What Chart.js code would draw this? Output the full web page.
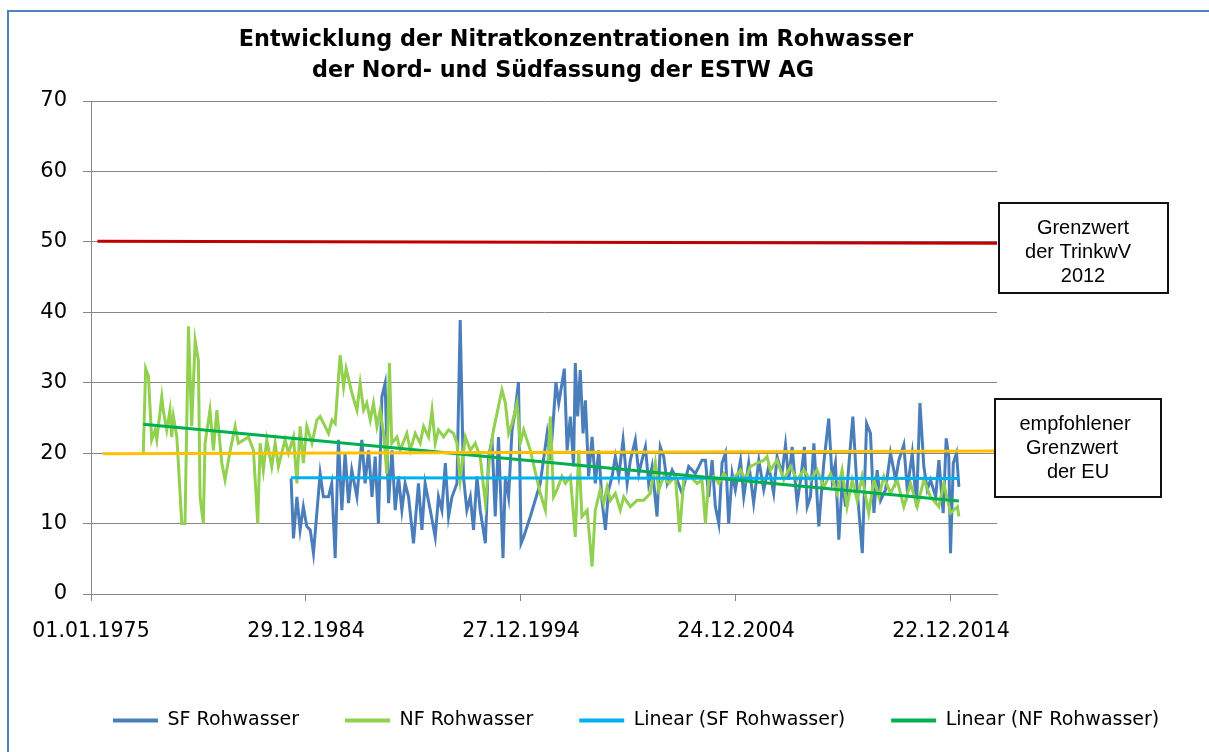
<!DOCTYPE html>
<html>
<head>
<meta charset="utf-8">
<script src="https://cdn.jsdelivr.net/npm/chart.js@4/dist/chart.umd.min.js"></script>
<style>
html,body{margin:0;padding:0;background:#fff;}
canvas{display:block;}
</style>
</head>
<body>
<canvas id="c" width="1209" height="752"></canvas>
<script>
// ---------- DATA ----------
const tickDays = [0, 3650, 7300, 10950, 14600];
const tickLabels = ['01.01.1975', '29.12.1984', '27.12.1994', '24.12.2004', '22.12.2014'];
const axisMaxDays = 15381;

const nfYears = [1977.43,1977.54,1977.67,1977.82,1977.98,1978.06,1978.29,1978.36,1978.52,1978.67,1978.75,1978.83,1978.99,1979.22,1979.37,1979.53,1979.68,1979.84,1979.99,1980.07,1980.22,1980.30,1980.53,1980.69,1980.85,1981.08,1981.23,1981.47,1981.70,1981.85,1982.32,1982.55,1982.75,1982.86,1983.01,1983.17,1983.40,1983.56,1983.71,1984.02,1984.18,1984.41,1984.57,1984.72,1984.87,1985.03,1985.27,1985.50,1985.65,1985.88,1986.04,1986.20,1986.35,1986.58,1986.74,1986.86,1987.13,1987.36,1987.51,1987.67,1987.82,1987.98,1988.13,1988.29,1988.44,1988.60,1988.75,1988.87,1988.98,1989.22,1989.37,1989.68,1989.84,1990.07,1990.30,1990.46,1990.69,1990.85,1991.00,1991.15,1991.39,1991.62,1991.85,1992.01,1992.16,1992.40,1992.63,1992.86,1993.09,1993.33,1993.56,1993.71,1994.10,1994.26,1994.41,1994.57,1994.80,1994.95,1995.11,1995.42,1995.88,1996.12,1996.35,1996.50,1996.66,1996.89,1997.05,1997.28,1997.51,1997.67,1997.82,1998.06,1998.29,1998.44,1998.67,1998.83,1998.99,1999.14,1999.37,1999.60,1999.76,2000.07,2000.38,2000.69,2001.00,2001.23,2001.39,2001.62,2001.85,2002.16,2002.36,2002.55,2002.86,2003.17,2003.40,2003.56,2003.71,2003.94,2004.18,2004.41,2004.64,2004.95,2005.19,2005.42,2005.65,2005.96,2006.27,2006.42,2006.58,2006.89,2007.20,2007.51,2007.82,2008.13,2008.44,2008.75,2009.06,2009.37,2009.68,2009.91,2010.14,2010.38,2010.61,2010.84,2011.15,2011.39,2011.62,2011.85,2012.16,2012.47,2012.78,2013.09,2013.40,2013.71,2014.02,2014.41,2014.64,2014.95,2015.27,2015.34];
const nfValues = [20,32,30.9,21.9,23.3,21.9,28,26.1,23.3,26.1,22.3,25.2,22.3,10,10,38,23.8,36,33.2,13.8,10,21.4,26.1,20.4,26.1,18.6,16.2,20.4,23.8,21.4,22.3,20.4,10,21.4,17.6,21.9,18.1,21.4,18.1,21.9,20,22.3,15.7,23.8,18.6,23.8,21.4,24.7,25.2,23.8,22.8,24.7,24.2,33.9,29.4,32,28.5,26.1,29.9,26.1,27.1,24.7,27.1,23.8,26.1,22.8,17.1,32.8,21.4,22.3,20.4,22.8,20.4,22.8,21.4,23.8,22.3,26.1,21.4,23.3,22.3,23.3,22.8,21.4,16.2,22.3,20.4,21.4,19.5,12.9,20.4,23.3,29,27.1,22.8,24.2,27.1,21.4,23.3,20.4,14.3,11.9,25.2,13.8,14.8,16.7,15.7,16.7,8.1,20.4,11,11.9,3.9,11.9,14.8,12.9,15.2,13.3,14.3,11.9,13.8,12.4,13.3,13.3,14.3,18.6,14.8,16.7,15.7,16.7,8.8,16.2,16.7,15.7,16.2,10,16.2,16.7,15.7,17.1,16.2,16.7,17.6,16.2,18.1,18.6,19,19.5,17.6,19,16.2,18.1,16.2,17.6,16.2,17.6,15.2,17.1,14.3,17.6,12.4,16.2,13.3,16.7,11.5,16.2,13.8,16.7,14.3,16.2,12.4,15.7,12.4,16.2,13.8,12.4,15.7,11.5,12.4,11];

const sfYears = [1984.30,1984.41,1984.57,1984.72,1984.87,1985.03,1985.19,1985.34,1985.65,1985.80,1986.04,1986.19,1986.35,1986.50,1986.66,1986.81,1986.97,1987.12,1987.36,1987.59,1987.74,1987.90,1988.06,1988.21,1988.36,1988.52,1988.67,1988.83,1988.99,1989.14,1989.29,1989.45,1989.60,1989.76,1989.99,1990.22,1990.38,1990.53,1990.77,1991.00,1991.15,1991.31,1991.47,1991.62,1991.78,1992.01,1992.16,1992.31,1992.47,1992.63,1992.78,1992.94,1993.09,1993.33,1993.48,1993.64,1993.79,1993.94,1994.15,1994.26,1994.41,1994.57,1994.72,1994.87,1994.99,1995.11,1995.42,1995.88,1996.20,1996.35,1996.50,1996.61,1996.74,1996.89,1997.00,1997.13,1997.28,1997.43,1997.51,1997.62,1997.74,1997.87,1997.98,1998.13,1998.29,1998.44,1998.60,1998.75,1998.91,1999.06,1999.22,1999.37,1999.53,1999.73,1999.92,2000.07,2000.30,2000.46,2000.61,2000.77,2000.92,2001.08,2001.31,2001.46,2001.62,2001.78,2002.01,2002.24,2002.47,2002.78,2003.09,2003.40,2003.56,2003.71,2003.87,2004.02,2004.18,2004.33,2004.49,2004.64,2004.80,2004.95,2005.19,2005.34,2005.57,2005.80,2006.04,2006.27,2006.50,2006.73,2006.89,2007.12,2007.28,2007.43,2007.59,2007.82,2007.98,2008.16,2008.29,2008.44,2008.60,2008.83,2009.06,2009.29,2009.45,2009.60,2009.76,2009.92,2010.07,2010.22,2010.41,2010.61,2010.85,2011.05,2011.23,2011.39,2011.54,2011.70,2011.93,2012.16,2012.40,2012.55,2012.78,2012.94,2013.17,2013.37,2013.53,2013.71,2013.87,2014.02,2014.26,2014.41,2014.61,2014.75,2014.87,2014.95,2015.08,2015.23,2015.34];
const sfValues = [16.4,7.9,13.8,9.1,12.4,9.6,9.1,5.8,17.1,13.8,13.8,15.7,5.1,21.9,11.9,20,12.9,17.6,13.8,21.9,15.7,20.4,13.8,19.5,10,28,29.9,12.9,20.4,11.9,16.7,11.9,15.7,13.8,7.2,15.7,9.1,15.7,11.9,8.1,13.8,11.9,18.6,11,13.8,15.7,38.9,16.7,11.9,13.8,9.1,16.7,11.9,7.2,19.5,21.9,11,22.3,5.1,16.7,13.8,23.3,26.1,30.1,7.2,8.1,11,15.7,22.8,19,25.2,30.1,27.1,29.9,32,20.4,25.2,18.1,32.8,25.2,31.8,22.8,27.5,16.7,22.3,15.7,20.4,13.3,9.1,14.8,16.7,19.5,16.7,21.9,15.7,19,21.9,17.1,19,20.9,15.7,18.1,11,20.9,19.5,15.7,17.6,16.2,14.3,18.1,17.1,19,19,13.8,19,12.4,10,18.6,20,10,17.1,14.8,19,13.8,18.6,12.9,19,14.8,18.1,14.3,19.5,17.1,21.2,16.2,20.9,12.9,16.2,20.9,12.4,13.8,21.4,9.6,18.6,24.9,16.2,18.6,7.7,16.2,12.4,18.1,25.2,14.8,5.8,24.2,22.8,11.5,17.6,13.3,14.8,20,16.2,19,21.2,14.8,20,12.4,27.1,18.1,14.8,16.2,13.8,19,11.5,22.1,19.5,5.8,18.6,20,15.2];

const sfTrendYears = [1984.30, 2015.34];
const sfTrendValues = [16.5, 16.4];
const nfTrendYears = [1977.43, 2015.34];
const nfTrendValues = [24.1, 13.2];

const trinkwvYears = [1975.30, 2017.11];
const trinkwvValues = [50.1, 49.8];
const euYears = [1975.55, 2017.11];
const euValues = [19.9, 20.3];

const titleLines = ['Entwicklung der Nitratkonzentrationen im Rohwasser', 'der Nord- und Südfassung der ESTW AG'];
const box1Lines = ['Grenzwert', 'der TrinkwV', '2012'];
const box2Lines = ['empfohlener', 'Grenzwert', 'der EU'];

// ---------- helpers ----------
const toDays = y => (y - 1975) * 365.25;
const pts = (xs, ys) => xs.map((x, i) => ({x: toDays(x), y: ys[i]}));
const PAD_BOTTOM = 12;

const decor = {
  id: 'decor',
  beforeDraw(chart) {
    const ctx = chart.ctx;
    ctx.save();
    ctx.fillStyle = '#fff';
    ctx.fillRect(0, 0, chart.width, chart.height);
    ctx.restore();
  },
  afterLayout(chart) {
    const lg = chart.legend;
    if (lg && lg.lineWidths) {
      const pad = lg.options.labels.padding;
      const lw = lg.lineWidths[0];
      lg.left = 0;
      lg.right = 226 - pad + lw;
    }
  },
  afterDraw(chart) {
    const ctx = chart.ctx;
    ctx.save();
    // outer frame (left & top visible)
    ctx.strokeStyle = '#4F81BD';
    ctx.lineWidth = 2;
    ctx.beginPath();
    ctx.moveTo(8, 760);
    ctx.lineTo(8, 11);
    ctx.lineTo(1215, 11);
    ctx.stroke();
    // title
    ctx.fillStyle = '#000';
    ctx.textAlign = 'center';
    ctx.textBaseline = 'middle';
    ctx.font = 'bold 22.3px "DejaVu Sans"';
    ctx.fillText(titleLines[0], 576, 40);
    ctx.fillText(titleLines[1], 563, 71);
    // boxes
    ctx.lineWidth = 2;
    ctx.strokeStyle = '#111';
    ctx.fillStyle = '#fff';
    ctx.fillRect(999, 203, 169, 90);
    ctx.strokeRect(999, 203, 169, 90);
    ctx.fillRect(995, 399, 166, 98);
    ctx.strokeRect(995, 399, 166, 98);
    ctx.fillStyle = '#000';
    ctx.font = '20px "Liberation Sans"';
    const b1 = [[1083, 228], [1078, 252], [1083, 276]];
    box1Lines.forEach((t, i) => ctx.fillText(t, b1[i][0], b1[i][1]));
    const b2 = [[1075, 424], [1072, 448], [1078, 472]];
    box2Lines.forEach((t, i) => ctx.fillText(t, b2[i][0], b2[i][1]));
    ctx.restore();
  }
};

const lineDs = (label, data, color, order, width) => ({
  label, data, borderColor: color, backgroundColor: color,
  borderWidth: width || 3, pointRadius: 0, pointHoverRadius: 0,
  tension: 0, fill: false, order, yAxisID: 'y'
});

new Chart(document.getElementById('c'), {
  type: 'line',
  data: {
    datasets: [
      lineDs('SF Rohwasser', pts(sfYears, sfValues), '#4A7EBB', 4, 3),
      lineDs('NF Rohwasser', pts(nfYears, nfValues), '#92D050', 3, 3),
      lineDs('Linear (SF Rohwasser)', pts(sfTrendYears, sfTrendValues), '#00B0F0', 2, 3),
      lineDs('Linear (NF Rohwasser)', pts(nfTrendYears, nfTrendValues), '#00B050', 1, 3),
      lineDs('Grenzwert TrinkwV', pts(trinkwvYears, trinkwvValues), '#C00000', 0, 3),
      lineDs('Grenzwert EU', pts(euYears, euValues), '#FFC000', 0, 3)
    ]
  },
  options: {
    responsive: false,
    animation: false,
    devicePixelRatio: 1,
    layout: {padding: {left: 0, right: 0, top: 101, bottom: PAD_BOTTOM}},
    plugins: {
      title: {display: false},
      tooltip: {enabled: false},
      legend: {
        display: true,
        position: 'bottom',
        labels: {
          usePointStyle: true,
          pointStyle: 'line',
          pointStyleWidth: 45,
          padding: 46,
          color: '#000',
          font: {family: '"DejaVu Sans"', size: 19},
          filter: item => item.datasetIndex < 4,
          sort: (a, b) => a.datasetIndex - b.datasetIndex,
          generateLabels: chart => Chart.defaults.plugins.legend.labels.generateLabels(chart).map(it => Object.assign(it, {lineWidth: 4}))
        }
      }
    },
    scales: {
      x: {
        type: 'linear',
        min: 0,
        max: axisMaxDays,
        afterBuildTicks: s => { s.ticks = tickDays.map(v => ({value: v})); },
        afterFit: s => { const lh = s.chart.legend ? s.chart.legend.height : 75; s.height = Math.max(20, 752 - PAD_BOTTOM - lh - 594); },
        ticks: {
          autoSkip: false,
          maxRotation: 0,
          padding: 18,
          color: '#000',
          font: {family: '"DejaVu Sans"', size: 20.5},
          callback: (v) => { const i = tickDays.indexOf(Math.round(v)); return i >= 0 ? tickLabels[i] : ''; }
        },
        grid: {drawOnChartArea: false, color: '#868686', tickLength: 7},
        border: {color: '#868686', width: 1}
      },
      y: {
        min: 0,
        max: 70,
        afterFit: s => { s.width = 91; },
        ticks: {
          stepSize: 10,
          padding: 16,
          color: '#000',
          font: {family: '"DejaVu Sans"', size: 21}
        },
        grid: {color: '#868686', lineWidth: 1, tickLength: 8},
        border: {color: '#868686', width: 1}
      },
      yRight: {
        position: 'right',
        min: 0,
        max: 70,
        afterFit: s => { s.width = 212; },
        ticks: {display: false},
        grid: {display: false, drawOnChartArea: false},
        border: {display: false}
      }
    }
  },
  plugins: [decor]
});
</script>
</body>
</html>
